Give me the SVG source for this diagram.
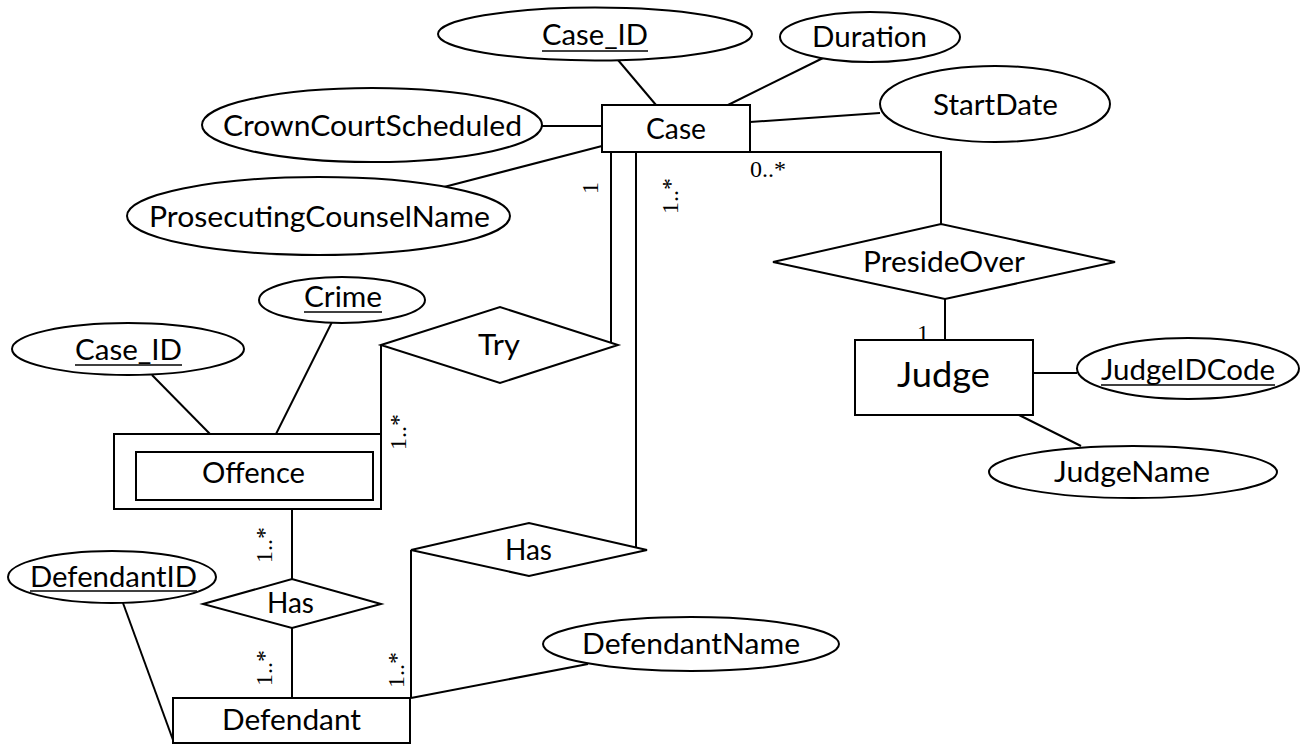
<svg xmlns="http://www.w3.org/2000/svg" width="1309" height="744" viewBox="0 0 1309 744">
  <style>
    .shape { fill: #ffffff; stroke: #000000; stroke-width: 2; }
    .link { fill: none; stroke: #000000; stroke-width: 2; }
    .ul { stroke: #000000; stroke-width: 1.6; }
    .lbl { font-family: Lato, "Liberation Sans", sans-serif; font-size: 29px; fill: #000000; }
    .big { font-size: 35px; }
    .card { font-family: "Liberation Serif", serif; font-size: 24px; fill: #000000; }
  </style>
  <rect x="0" y="0" width="1309" height="744" fill="#ffffff"/>

  <!-- relationship lines and attribute links -->
  <g id="connectors">
    <line class="link" x1="618" y1="60" x2="656" y2="105"/>
    <line class="link" x1="823" y1="58" x2="728" y2="105"/>
    <line class="link" x1="880" y1="113" x2="750" y2="122"/>
    <line class="link" x1="542" y1="126" x2="602" y2="126"/>
    <line class="link" x1="444" y1="187" x2="602" y2="146"/>
    <polyline class="link" points="611,152 611,342"/>
    <polyline class="link" points="636,152 636,547"/>
    <polyline class="link" points="750,152 941,152 941,224"/>
    <line class="link" x1="945" y1="299" x2="945" y2="340"/>
    <line class="link" x1="1033" y1="373" x2="1077" y2="373"/>
    <line class="link" x1="1019" y1="415" x2="1081" y2="446"/>
    <polyline class="link" points="381,345 381,434"/>
    <line class="link" x1="152" y1="375" x2="210" y2="434"/>
    <line class="link" x1="332" y1="322" x2="267" y2="452"/>
    <line class="link" x1="292" y1="509" x2="292" y2="579"/>
    <line class="link" x1="292" y1="628" x2="292" y2="698"/>
    <polyline class="link" points="411,550 411,698"/>
    <line class="link" x1="123" y1="603" x2="173" y2="740"/>
    <line class="link" x1="411" y1="698" x2="588" y2="664"/>

    <!-- multiplicities -->
    <text class="card" text-anchor="middle" transform="translate(598,188) rotate(-90)">1</text>
    <text class="card" text-anchor="middle" transform="translate(678,196) rotate(-90)">1..*</text>
    <text class="card" x="750" y="177">0..*</text>
    <text class="card" x="917" y="341">1</text>
    <text class="card" text-anchor="middle" transform="translate(406,432) rotate(-90)">1..*</text>
    <text class="card" text-anchor="middle" transform="translate(272,545) rotate(-90)">1..*</text>
    <text class="card" text-anchor="middle" transform="translate(272,668) rotate(-90)">1..*</text>
    <text class="card" text-anchor="middle" transform="translate(404,670) rotate(-90)">1..*</text>
  </g>

  <!-- entities -->
  <g id="case">
    <rect class="shape" x="602" y="105" width="148" height="47"/>
    <text class="lbl" x="646" y="139" textLength="60" lengthAdjust="spacingAndGlyphs">Case</text>
  </g>
  <g id="judge">
    <rect class="shape" x="855" y="340" width="178" height="75"/>
    <text class="lbl big" x="897" y="387" textLength="93" lengthAdjust="spacingAndGlyphs">Judge</text>
  </g>
  <g id="offence">
    <rect class="shape" x="114" y="434" width="267" height="75"/>
    <rect class="shape" x="136" y="452" width="237" height="48"/>
    <text class="lbl" x="202" y="483" textLength="103" lengthAdjust="spacingAndGlyphs">Offence</text>
  </g>
  <g id="defendant">
    <rect class="shape" x="173" y="698" width="237" height="45"/>
    <text class="lbl" x="222" y="730" textLength="139" lengthAdjust="spacingAndGlyphs">Defendant</text>
  </g>

  <!-- relationships -->
  <g id="try">
    <polygon class="shape" points="381,345 500,307 618,345 500,383"/>
    <text class="lbl" x="478" y="355" textLength="42" lengthAdjust="spacingAndGlyphs">Try</text>
  </g>
  <g id="preside-over">
    <polygon class="shape" points="773,262 941,224 1115,262 945,299"/>
    <text class="lbl" x="863" y="272" textLength="162" lengthAdjust="spacingAndGlyphs">PresideOver</text>
  </g>
  <g id="has-offence">
    <polygon class="shape" points="203,604 292,579 381,604 292,628"/>
    <text class="lbl" x="267" y="613" textLength="47" lengthAdjust="spacingAndGlyphs">Has</text>
  </g>
  <g id="has-case">
    <polygon class="shape" points="411,550 529,523 647,550 529,576"/>
    <text class="lbl" x="505" y="560" textLength="47" lengthAdjust="spacingAndGlyphs">Has</text>
  </g>

  <!-- attributes -->
  <g id="attr-case-id">
    <ellipse class="shape" cx="595" cy="34" rx="157" ry="26.5"/>
    <text class="lbl" x="542" y="45" textLength="106" lengthAdjust="spacingAndGlyphs">Case_ID</text>
    <line class="ul" x1="542" y1="51" x2="648" y2="51"/>
  </g>
  <g id="attr-duration">
    <ellipse class="shape" cx="870" cy="37" rx="90" ry="25"/>
    <text class="lbl" x="812" y="47" textLength="115" lengthAdjust="spacingAndGlyphs">Duration</text>
  </g>
  <g id="attr-start-date">
    <ellipse class="shape" cx="995" cy="104" rx="115" ry="38"/>
    <text class="lbl" x="933" y="115" textLength="125" lengthAdjust="spacingAndGlyphs">StartDate</text>
  </g>
  <g id="attr-crown-court">
    <ellipse class="shape" cx="372" cy="125" rx="170" ry="37"/>
    <text class="lbl" x="223" y="136" textLength="299" lengthAdjust="spacingAndGlyphs">CrownCourtScheduled</text>
  </g>
  <g id="attr-prosecuting">
    <ellipse class="shape" cx="318.5" cy="216" rx="191.5" ry="39"/>
    <text class="lbl" x="149" y="227" textLength="341" lengthAdjust="spacingAndGlyphs">ProsecutingCounselName</text>
  </g>
  <g id="attr-crime">
    <ellipse class="shape" cx="342" cy="300" rx="83" ry="23"/>
    <text class="lbl" x="304" y="307" textLength="78" lengthAdjust="spacingAndGlyphs">Crime</text>
    <line class="ul" x1="304" y1="312" x2="382" y2="312"/>
  </g>
  <g id="attr-offence-case-id">
    <ellipse class="shape" cx="128" cy="349" rx="116" ry="26"/>
    <text class="lbl" x="75" y="360" textLength="107" lengthAdjust="spacingAndGlyphs">Case_ID</text>
    <line class="ul" x1="75" y1="365" x2="182" y2="365"/>
  </g>
  <g id="attr-judge-id">
    <ellipse class="shape" cx="1188" cy="368.5" rx="111" ry="30.5"/>
    <text class="lbl" x="1101" y="380" textLength="174" lengthAdjust="spacingAndGlyphs">JudgeIDCode</text>
    <line class="ul" x1="1101" y1="385" x2="1275" y2="385"/>
  </g>
  <g id="attr-judge-name">
    <ellipse class="shape" cx="1133" cy="472" rx="144" ry="26"/>
    <text class="lbl" x="1054" y="482" textLength="156" lengthAdjust="spacingAndGlyphs">JudgeName</text>
  </g>
  <g id="attr-defendant-id">
    <ellipse class="shape" cx="112" cy="577" rx="104" ry="26"/>
    <text class="lbl" x="30" y="587" textLength="167" lengthAdjust="spacingAndGlyphs">DefendantID</text>
    <line class="ul" x1="30" y1="591" x2="197" y2="591"/>
  </g>
  <g id="attr-defendant-name">
    <ellipse class="shape" cx="691" cy="644" rx="148" ry="27"/>
    <text class="lbl" x="582" y="654" textLength="218" lengthAdjust="spacingAndGlyphs">DefendantName</text>
  </g>
</svg>
